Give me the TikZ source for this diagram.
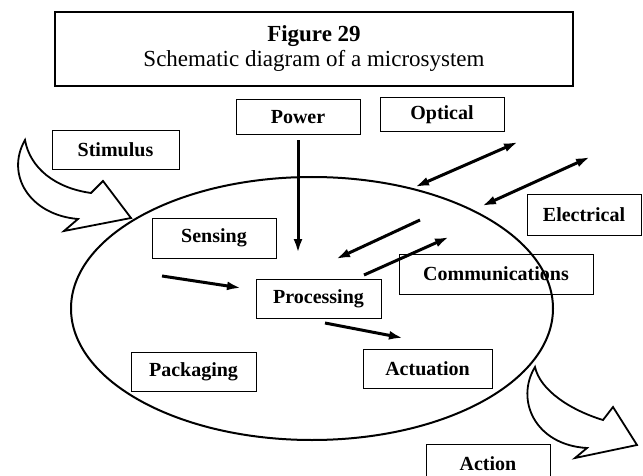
\documentclass[tikz,border=0pt]{standalone}
\usepackage{fontspec}
\setmainfont{Liberation Serif}
\usetikzlibrary{arrows.meta, shapes.geometric, positioning}

\begin{document}
\begin{tikzpicture}
    [
        x=0.5pt, y=-0.5pt,
        box/.style={draw, line width=0.5pt, inner sep=0pt, minimum height=19.5pt, font=\bfseries},
        titlebox/.style={draw, line width=0.7pt, inner sep=0pt, align=center},
        fatarrow/.style={draw, line width=0.9pt, line join=miter}
    ]
    \tikzstyle{line} = [draw, line width=1.5pt, -{Latex[length=7pt,width=4.5pt]}]
    \tikzstyle{both} = [draw, line width=1.5pt, {Latex[length=7pt,width=4.5pt]}-{Latex[length=7pt,width=4.5pt]}]

    \useasboundingbox (0,0) rectangle (643,476);

    % heading
    \node[titlebox, minimum width=259pt, minimum height=37pt] (head) at (314,49)
        {{\bfseries\fontsize{11.5}{12}\selectfont Figure 29}\\[0.5pt]
         {\fontsize{11.5}{12}\selectfont Schematic diagram of a microsystem}};

    % the system itself
    \node[draw, ellipse, line width=1pt, minimum width=241pt, minimum height=131.5pt] (sys) at (312,308.5) {};

    % outside world
    \node[box, minimum width=62pt, minimum height=17.5pt] (power) at (298,117.5) {Power};
    \node[box, minimum width=62pt, minimum height=17pt] (optical) at (442,115) {Optical};
    \node[box, minimum width=63.5pt] (stimulus) at (115.5,150) {Stimulus};
    \node[box, minimum width=57pt, minimum height=20pt] (electrical) at (584,215) {Electrical};
    \node[box, minimum width=62pt, minimum height=20pt] (action) at (488,464) {Action};

    % inside
    \node[box, minimum width=62pt, minimum height=20pt] (sensing) at (214,238) {Sensing};
    \node[box, minimum width=62.5pt] (processing) at (318.5,298.5) {Processing};
    \node[box, minimum width=97pt, minimum height=20pt] (comms) at (496,274) {Communications};
    \node[box, minimum width=62.5pt] (packaging) at (193.5,371.5) {Packaging};
    \node[box, minimum width=64.5pt] (actuation) at (427.5,368.5) {Actuation};

    % arrow ends
    \coordinate (pwr-end) at (298,253);
    \coordinate (opt-a) at (415,187);
    \coordinate (opt-b) at (518,142);
    \coordinate (ele-a) at (482,206);
    \coordinate (ele-b) at (590,157);
    \coordinate (com-in-a) at (420,220);
    \coordinate (com-in-b) at (336,259);
    \coordinate (com-out-a) at (364,275);
    \coordinate (com-out-b) at (449,237);
    \coordinate (sen-a) at (162,276);
    \coordinate (sen-b) at (241,288);
    \coordinate (act-a) at (325,323);
    \coordinate (act-b) at (403,338);

    \path[line] ([yshift=-2.5pt]power.south) -- (pwr-end);
    \path[both] (opt-a) -- (opt-b);
    \path[both] (ele-a) -- (ele-b);
    \path[line] (com-in-a) -- (com-in-b);
    \path[line] (com-out-a) -- (com-out-b);
    \path[line] (sen-a) -- (sen-b);
    \path[line] (act-a) -- (act-b);

    % stimulus in, action out
    \draw[fatarrow] (25,140) .. controls (5,175) and (30,215) .. (78,219)
        -- (64,231) -- (131,218) -- (103,181) -- (91,193)
        .. controls (55,188) and (30,168) .. (25,140) -- cycle;
    \draw[fatarrow] (535,367) .. controls (515,400) and (535,445) .. (587,448)
        -- (575,458) -- (637,445) -- (613,407) -- (603,420)
        .. controls (570,410) and (540,390) .. (535,367) -- cycle;

\end{tikzpicture}
\end{document}
